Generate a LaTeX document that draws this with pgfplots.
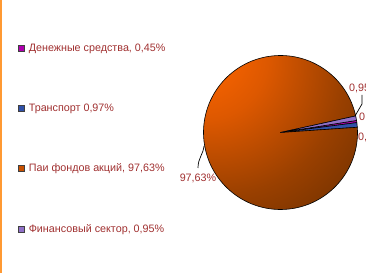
\documentclass[border=0pt]{standalone}
\usepackage{fontspec}
\setmainfont{Liberation Sans}
\usepackage{pgfplots}
\usepackage{pgfplotstable}
\pgfplotsset{compat=1.18}
\definecolor{labelred}{HTML}{A03030}
\definecolor{cmoney}{HTML}{B000B0}
\definecolor{ctrans}{HTML}{3050A8}
\definecolor{cfunds}{HTML}{C85000}
\definecolor{cfin}{HTML}{9070C8}
\definecolor{or1}{HTML}{FF6600}
\definecolor{or2}{HTML}{DD5800}
\definecolor{or3}{HTML}{9A4000}
\definecolor{or4}{HTML}{6A2E00}
\definecolor{frameor}{HTML}{FF9933}
\pgfdeclareradialshading{pieshade}{\pgfpoint{-30bp}{30bp}}{color(0bp)=(or1); color(6bp)=(or1); color(20bp)=(or2); color(38bp)=(or3); color(55bp)=(or4); color(100bp)=(or4)}
\tikzset{
  stmoney/.style={fill=cmoney},
  sttrans/.style={fill=ctrans},
  stfunds/.style={shading=pieshade},
  stfin/.style={fill=cfin},
}
\pgfplotstableread{
key value style
Money 0.45 stmoney
Transport 0.97 sttrans
Funds 97.63 stfunds
Finance 0.95 stfin
}\piedata
\begin{document}
\begin{tikzpicture}
\clip (0,0) rectangle (366bp,273bp);
\begin{axis}[
  width=366bp, height=273bp, scale only axis,
  xmin=0, xmax=366, ymin=0, ymax=273,
  axis lines=none, clip=false,
  legend style={at={(axis cs:18,231.5)}, anchor=north west, draw=none, fill=none,
    font=\fontsize{10.8}{13}\selectfont, text=labelred, row sep=47bp,
    inner sep=0pt, cells={anchor=west}, nodes={inner xsep=4bp}},
  legend image code/.code={\draw[#1, draw=black!75, line width=0.6bp] (0bp,-3bp) rectangle (6bp,3bp);},
]
\addlegendimage{fill=cmoney}
\addlegendentry{Денежные средства, 0,45\%}
\addlegendimage{fill=ctrans}
\addlegendentry{Транспорт 0,97\%}
\addlegendimage{fill=cfunds}
\addlegendentry{Паи фондов акций, 97,63\%}
\addlegendimage{fill=cfin}
\addlegendentry{Финансовый сектор, 0,95\%}
\pgfmathsetmacro\cur{9.0}
\pgfplotsforeachungrouped \i in {0,...,3}{%
  \pgfplotstablegetelem{\i}{value}\of\piedata \let\v\pgfplotsretval
  \pgfplotstablegetelem{\i}{style}\of\piedata \let\s\pgfplotsretval
  \pgfmathsetmacro\nxt{\cur-3.6*\v}%
  \edef\temp{\noexpand\path[\s, draw=black, line width=0.6bp] (axis cs:280.5,140.5) -- ++(\cur:77bp) arc[start angle=\cur, end angle=\nxt, radius=77bp] -- cycle;}%
  \temp
  \global\let\cur\nxt
}
% leader lines
\draw[black, line width=0.7bp] (axis cs:204,127) .. controls (axis cs:203,118) and (axis cs:198,115) .. (axis cs:198,105);
\draw[black, line width=0.7bp] (axis cs:355,157) -- (axis cs:362,169) -- (axis cs:362,178);
% data labels
\begin{scope}[every node/.style={font=\fontsize{10.8}{13}\selectfont, text=labelred, inner sep=0pt}]
\node[anchor=center] at (axis cs:198,95) {97,63\%};
\node[anchor=west] at (axis cs:349,185) {0,95\%};
\node[anchor=west] at (axis cs:359,156) {0,45\%};
\node[anchor=west] at (axis cs:358,136) {0,97\%};
\end{scope}
\draw[frameor, line width=2bp] (axis cs:1,0) -- (axis cs:1,273);
\end{axis}
\end{tikzpicture}
\end{document}
